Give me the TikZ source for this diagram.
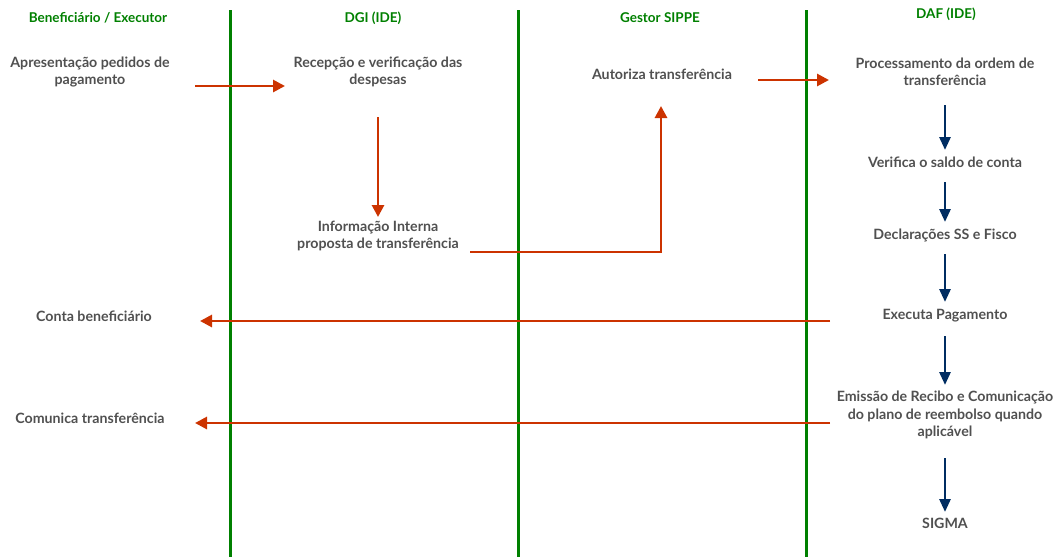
\documentclass[tikz,border=0pt]{standalone}
\usepackage{fontspec}
\setmainfont{Lato}
\usepackage{xcolor}
\usepackage{tikz}
\usetikzlibrary{positioning,arrows.meta,calc}
\definecolor{lane}{RGB}{0,128,0}
\definecolor{flowred}{RGB}{204,51,0}
\definecolor{flowblue}{RGB}{0,45,98}
\definecolor{txt}{RGB}{80,80,80}

\begin{document}
\begin{tikzpicture}[
    x=1pt,y=-1pt,
    lanehead/.style={font=\fontsize{13.5}{16}\selectfont\bfseries,text=lane},
    task/.style={align=center,font=\fontsize{14.2}{17.5}\selectfont\bfseries,text=txt,inner sep=0pt},
    laneline/.style={draw=lane,line width=3pt},
    redarrow/.style={-{Triangle[length=12pt,width=12pt]},line width=2.8pt,color=flowred},
    bluearrow/.style={-{Triangle[length=13pt,width=11pt]},line width=2.8pt,color=flowblue}
  ]
    \useasboundingbox (0,0) rectangle (1061,557);
    % swimlanes
    \draw[laneline] (230,10) -- (230,557);
    \draw[laneline] (518,10) -- (518,557);
    \draw[laneline] (806,10) -- (806,557);
    \node[lanehead] (hbenef) at (98,18) {Beneficiário / Executor};
    \node[lanehead] (hdgi) at (373,18) {DGI (IDE)};
    \node[lanehead] (hgestor) at (660,18) {Gestor SIPPE};
    \node[lanehead] (hdaf) at (946,14) {DAF (IDE)};

    % tasks
    \node[task] (apres) at (90,72) {Apresentação pedidos de\\pagamento};
    \node[task] (recep) at (378,72) {Recepção e verificação das\\despesas};
    \node[task] (info) at (378,236) {Informação Interna\\proposta de transferência};
    \node[task] (autor) at (662,74) {Autoriza transferência};
    \node[task] (proc) at (945,72) {Processamento da ordem de\\transferência};
    \node[task] (verif) at (945,162) {Verifica o saldo de conta};
    \node[task] (decl) at (945,235) {Declarações SS e Fisco};
    \node[task] (exec) at (945,316) {Executa Pagamento};
    \node[task] (emis) at (945,415) {Emissão de Recibo e Comunicação\\do plano de reembolso quando\\aplicável};
    \node[task] (sigma) at (945,523) {SIGMA};
    \node[task] (conta) at (94,316) {Conta beneficiário};
    \node[task] (comun) at (90,418) {Comunica transferência};

    % flow between lanes
    \draw[redarrow] ($(apres)+(105,14)$) -- ($(recep)+(-93,14)$);
    \draw[redarrow] ($(recep)+(0,45)$) -- ($(info)+(0,-19)$);
    \draw[redarrow] ($(info)+(92,16)$) -| ($(autor)+(-1,32)$);
    \draw[redarrow] ($(autor)+(96,6)$) -- ($(proc)+(-116,8)$);
    \draw[redarrow] ($(exec)+(-115,5)$) -- ($(conta)+(106,5)$);
    \draw[redarrow] ($(emis)+(-115,8)$) -- ($(comun)+(105,5)$);

    % steps in DAF
    \draw[bluearrow] ($(proc)+(0,33)$) -- ($(verif)+(0,-12)$);
    \draw[bluearrow] ($(verif)+(0,20)$) -- ($(decl)+(0,-13)$);
    \draw[bluearrow] ($(decl)+(0,19)$) -- ($(exec)+(0,-14)$);
    \draw[bluearrow] ($(exec)+(0,20)$) -- ($(emis)+(0,-30)$);
    \draw[bluearrow] ($(emis)+(0,43)$) -- ($(sigma)+(0,-11)$);
  \end{tikzpicture}
\end{document}
